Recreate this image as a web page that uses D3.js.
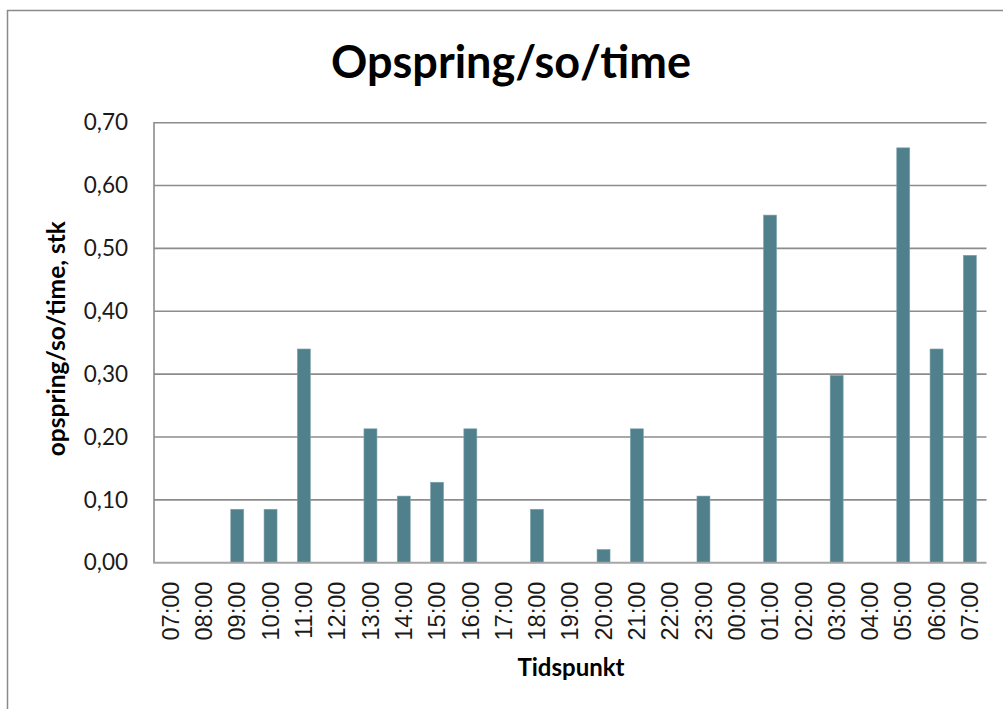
<!DOCTYPE html>
<html>
<head>
<meta charset="utf-8">
<script src="https://cdn.jsdelivr.net/npm/d3@7"></script>
<style>
  html, body { margin: 0; padding: 0; background: #fff; }
  svg { display: block; }
</style>
</head>
<body>
<svg id="chart" width="1003" height="709"></svg>
<script>
// Hourly time stamps along the x axis (the series wraps past midnight)
const timeLabels = ["07:00","08:00","09:00","10:00","11:00","12:00","13:00","14:00","15:00",
  "16:00","17:00","18:00","19:00","20:00","21:00","22:00","23:00","00:00","01:00","02:00",
  "03:00","04:00","05:00","06:00","07:00"];

// Offspring per sow per hour
const values = [0, 0, 0.085, 0.085, 0.340, 0, 0.213, 0.106, 0.128,
  0.213, 0, 0.085, 0, 0.021, 0.213, 0, 0.106, 0, 0.553, 0,
  0.298, 0, 0.660, 0.340, 0.489];

const yTicks = [0, 0.1, 0.2, 0.3, 0.4, 0.5, 0.6, 0.7];

const titleText = "Opspring/so/time";
const yTitle = "opspring/so/time, stk";
const xTitle = "Tidspunkt";

const svg = d3.select("#chart");
const W = 1003, H = 709;
const plot = { left: 154, right: 986.5, top: 122.7, bottom: 562.7 };

// outer chart-area frame (runs off the right and bottom edges)
svg.append("path")
  .attr("d", `M7.5,${H + 5} V10.5 H${W + 5}`)
  .attr("fill", "none")
  .attr("stroke", "#8a8a8a")
  .attr("stroke-width", 1.5);

const idx = d3.range(values.length);
const x = d3.scaleBand()
  .domain(idx)
  .range([plot.left, plot.right])
  .paddingInner(0.61)
  .paddingOuter(0.305);

const y = d3.scaleLinear()
  .domain([0, 0.7])
  .range([plot.bottom, plot.top]);

const fmt = d => d3.format(".2f")(d).replace(".", ",");

// horizontal gridlines
svg.append("g")
  .selectAll("line")
  .data(yTicks.filter(d => d > 0))
  .join("line")
  .attr("x1", plot.left)
  .attr("x2", plot.right)
  .attr("y1", d => y(d))
  .attr("y2", d => y(d))
  .attr("stroke", "#8c8c8c")
  .attr("stroke-width", 1.6);

// left axis line
svg.append("line")
  .attr("x1", plot.left).attr("x2", plot.left)
  .attr("y1", plot.top - 0.8).attr("y2", plot.bottom)
  .attr("stroke", "#8c8c8c")
  .attr("stroke-width", 1.6);

// y tick labels
const yAxis = d3.axisLeft(y).tickValues(yTicks).tickFormat(fmt).tickSize(0).tickPadding(26);
const gy = svg.append("g")
  .attr("transform", `translate(${plot.left},0)`)
  .call(yAxis);
gy.select(".domain").remove();
gy.selectAll("text")
  .attr("font-family", "Lato, 'Open Sans', sans-serif")
  .attr("font-size", 22.5)
  .attr("fill", "#1a1a1a");

// bars
svg.append("g")
  .selectAll("rect")
  .data(values)
  .join("rect")
  .attr("x", (d, i) => x(i))
  .attr("y", d => y(d))
  .attr("width", x.bandwidth())
  .attr("height", d => y(0) - y(d))
  .attr("fill", "#4f808c")
  .attr("stroke", "#7ea3ad")
  .attr("stroke-width", 0.6);

// baseline axis
svg.append("line")
  .attr("x1", plot.left - 0.8).attr("x2", plot.right)
  .attr("y1", plot.bottom).attr("y2", plot.bottom)
  .attr("stroke", "#a6a6a6")
  .attr("stroke-width", 2);

// x tick labels, rotated
const xAxis = d3.axisBottom(x).tickFormat(i => timeLabels[i]).tickSize(0);
const gx = svg.append("g")
  .attr("transform", `translate(0,${plot.bottom})`)
  .call(xAxis);
gx.select(".domain").remove();
gx.selectAll("text")
  .attr("font-family", "'Liberation Sans', Arial, sans-serif")
  .attr("font-size", 23.5)
  .attr("fill", "#1a1a1a")
  .attr("text-anchor", "end")
  .attr("dy", "0.35em")
  .attr("transform", "translate(0,19) rotate(-90)")
  .attr("x", 0)
  .attr("y", 0);

// chart title
svg.append("text")
  .attr("x", 511)
  .attr("y", 78)
  .attr("text-anchor", "middle")
  .attr("font-family", "Lato, 'Open Sans', sans-serif")
  .attr("font-weight", "bold")
  .attr("font-size", 45)
  .attr("fill", "#000")
  .text(titleText);

// y axis title
svg.append("text")
  .attr("transform", `translate(65,${(plot.top + plot.bottom) / 2 - 4}) rotate(-90)`)
  .attr("text-anchor", "middle")
  .attr("font-family", "Lato, 'Open Sans', sans-serif")
  .attr("font-weight", "bold")
  .attr("font-size", 24.5)
  .attr("fill", "#000")
  .text(yTitle);

// x axis title
svg.append("text")
  .attr("x", 571)
  .attr("y", 676)
  .attr("text-anchor", "middle")
  .attr("font-family", "Lato, 'Open Sans', sans-serif")
  .attr("font-weight", "bold")
  .attr("font-size", 24)
  .attr("fill", "#000")
  .text(xTitle);
</script>
</body>
</html>
